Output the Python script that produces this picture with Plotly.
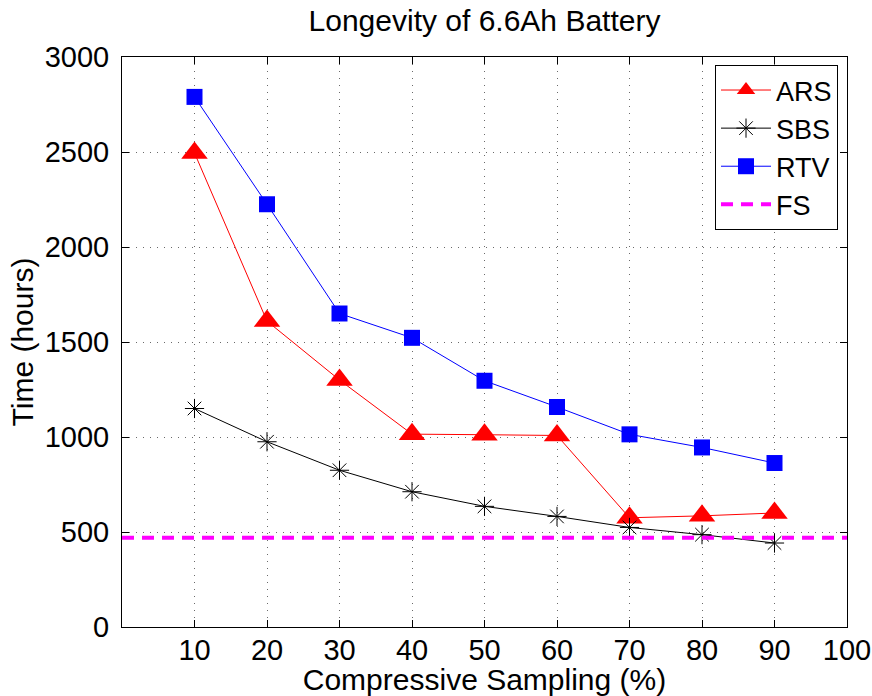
import plotly.graph_objects as go

# Compressive sampling ratio (%)
sampling = [10, 20, 30, 40, 50, 60, 70, 80, 90]

# Battery lifetime in hours for each scheme
ars = [2495, 1610, 1300, 1015, 1012, 1008, 575, 585, 600]
sbs = [1150, 975, 825, 712, 635, 582, 524, 486, 442]
rtv = [2790, 2225, 1650, 1522, 1296, 1158, 1014, 945, 863]
fs_level = 470

x_ticks = [10, 20, 30, 40, 50, 60, 70, 80, 90, 100]
y_ticks = [0, 500, 1000, 1500, 2000, 2500, 3000]

font_family = "Liberation Sans, Arial, Helvetica, sans-serif"

fig = go.Figure()

fig.add_trace(go.Scatter(
    x=sampling, y=ars, name="ARS", mode="lines+markers",
    line=dict(color="#ff0000", width=1),
    marker=dict(symbol="triangle-up", size=23, color="#ff0000"),
))
fig.add_trace(go.Scatter(
    x=sampling, y=sbs, name="SBS", mode="lines+markers",
    line=dict(color="#000000", width=1),
    marker=dict(symbol="asterisk-open", size=16, color="#000000",
                line=dict(color="#000000", width=1)),
))
fig.add_trace(go.Scatter(
    x=sampling, y=rtv, name="RTV", mode="lines+markers",
    line=dict(color="#0000ff", width=1),
    marker=dict(symbol="square", size=16, color="#0000ff"),
))
fig.add_trace(go.Scatter(
    x=[0, 100], y=[fs_level, fs_level], name="FS", mode="lines",
    line=dict(color="#ff00ff", width=4, dash="12px,8px"),
))

axis_common = dict(
    showline=True, linecolor="black", linewidth=1, mirror="ticks",
    ticks="inside", ticklen=7, tickcolor="black",
    showgrid=True, gridcolor="#6a6a6a", griddash="1px,6px", gridwidth=1,
    zeroline=False, automargin=False,
    tickfont=dict(family=font_family, size=29, color="black"),
    title_font=dict(family=font_family, size=30, color="black"),
)

fig.update_xaxes(
    range=[0, 100], tickvals=x_ticks,
    title_text="Compressive Sampling (%)", title_standoff=0,
    ticklabelstandoff=-3,
    **axis_common,
)
fig.update_yaxes(
    range=[0, 3000], tickvals=y_ticks,
    title_text="Time (hours)", title_standoff=2,
    ticklabelstandoff=6,
    **axis_common,
)

fig.update_layout(
    width=872, height=696,
    margin=dict(l=122, r=25, t=57, b=69),
    paper_bgcolor="white", plot_bgcolor="white",
    title=dict(text="Longevity of 6.6Ah Battery", xref="paper", x=0.5,
               xanchor="center", yref="container", y=0.970, yanchor="middle",
               font=dict(family=font_family, size=30, color="black")),
    font=dict(family=font_family, color="black"),
    showlegend=True,
    legend=dict(
        x=0.9876, xanchor="right", y=0.986, yanchor="top",
        bgcolor="white", bordercolor="black", borderwidth=1,
        font=dict(family=font_family, size=27, color="black"),
        itemwidth=50, tracegroupgap=0,
    ),
)

fig.write_html("out.html")
